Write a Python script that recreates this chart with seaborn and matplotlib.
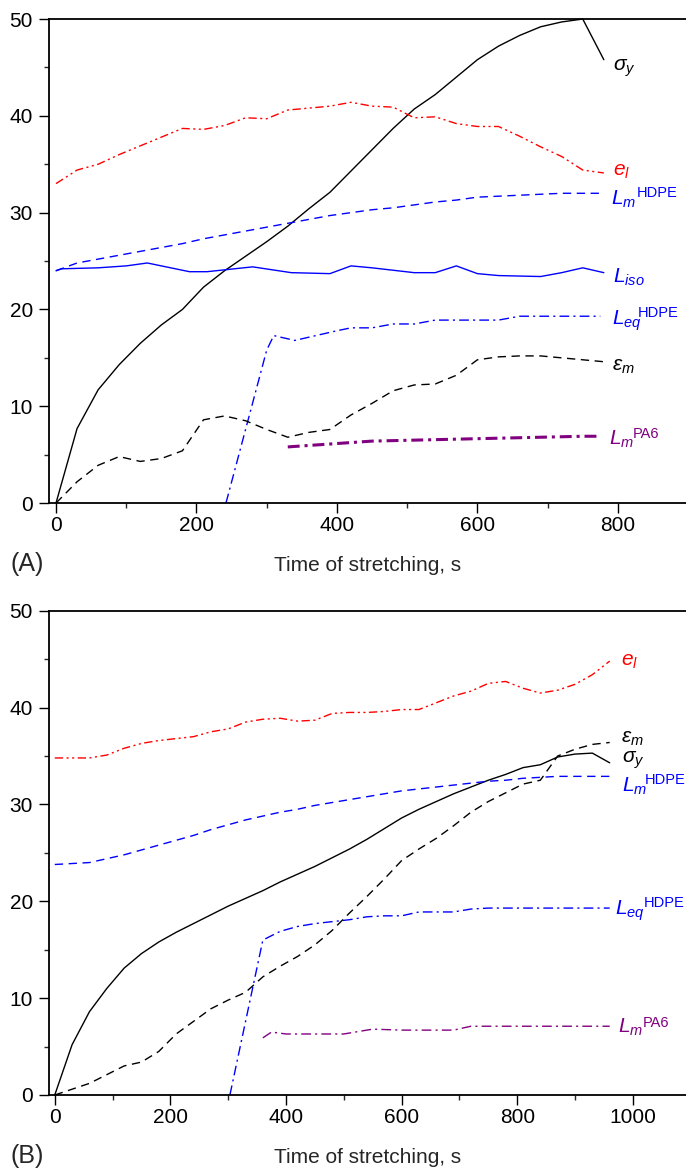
import matplotlib
matplotlib.use("Agg")
import matplotlib.pyplot as plt
from matplotlib.ticker import MultipleLocator
import seaborn as sns

# ---------------- Panel A: data (time of stretching, s) ----------------
t30_a = [0, 30, 60, 90, 120, 150, 180, 210, 240, 270, 300, 330, 360, 390,
         420, 450, 480, 510, 540, 570, 600, 630, 660, 690, 720, 750, 780]
sigma_y_a = [0, 7.7, 11.7, 14.3, 16.5, 18.4, 20.0, 22.3, 24.0, 25.5, 27.0, 28.6,
             30.4, 32.1, 34.3, 36.5, 38.7, 40.7, 42.2, 44.0, 45.8, 47.2, 48.3,
             49.2, 49.7, 50.0, 45.8]
e_l_a = [33.0, 34.4, 35.0, 36.0, 36.9, 37.8, 38.7, 38.6, 39.0, 39.8, 39.7, 40.6,
         40.8, 41.0, 41.4, 41.0, 40.9, 39.8, 39.9, 39.2, 38.9, 38.9, 37.9, 36.8,
         35.8, 34.4, 34.1]
lm_hdpe_a = [24.0, 24.8, 25.2, 25.6, 26.0, 26.4, 26.8, 27.3, 27.7, 28.1, 28.5,
             28.9, 29.3, 29.7, 30.0, 30.3, 30.5, 30.8, 31.1, 31.3, 31.6, 31.7,
             31.8, 31.9, 32.0, 32.0, 32.0]
eps_m_a = [0, 2.2, 3.9, 4.8, 4.3, 4.6, 5.4, 8.6, 9.0, 8.5, 7.6, 6.8, 7.3, 7.6,
           9.1, 10.3, 11.6, 12.2, 12.3, 13.2, 14.8, 15.1, 15.2, 15.2, 15.0,
           14.8, 14.6]
t_iso_a = [0, 8, 60, 100, 130, 190, 215, 280, 335, 390, 420, 450, 510, 540,
           570, 600, 630, 690, 720, 750, 780]
l_iso_a = [24.0, 24.2, 24.3, 24.5, 24.8, 23.9, 23.9, 24.4, 23.8, 23.7, 24.5,
           24.3, 23.8, 23.8, 24.5, 23.7, 23.5, 23.4, 23.8, 24.3, 23.8]
t_eq_a = [242, 300, 310, 340, 370, 400, 420, 450, 480, 510, 540, 600, 630, 660,
          690, 720, 750, 775]
leq_hdpe_a = [0, 15.8, 17.3, 16.8, 17.3, 17.8, 18.1, 18.1, 18.5, 18.5, 18.9,
              18.9, 18.9, 19.3, 19.3, 19.3, 19.3, 19.3]
t_pa6_a = [330, 390, 450, 510, 570, 630, 690, 750, 775]
lm_pa6_a = [5.8, 6.1, 6.4, 6.5, 6.6, 6.7, 6.8, 6.9, 6.9]

# ---------------- Panel B: data ----------------
t30_b = [0, 30, 60, 90, 120, 150, 180, 210, 240, 270, 300, 330, 360, 390, 420,
         450, 480, 510, 540, 570, 600, 630, 660, 690, 720, 750, 780, 810, 840,
         870, 900, 930, 960]
sigma_y_b = [0, 5.2, 8.6, 11.0, 13.1, 14.6, 15.8, 16.8, 17.7, 18.6, 19.5, 20.3,
             21.1, 22.0, 22.8, 23.6, 24.5, 25.4, 26.4, 27.5, 28.6, 29.5, 30.3,
             31.1, 31.8, 32.5, 33.1, 33.8, 34.1, 34.9, 35.2, 35.3, 34.3]
e_l_b = [34.8, 34.8, 34.8, 35.1, 35.8, 36.3, 36.6, 36.8, 37.0, 37.5, 37.8, 38.5,
         38.8, 38.9, 38.6, 38.7, 39.4, 39.5, 39.5, 39.6, 39.8, 39.8, 40.5, 41.2,
         41.7, 42.5, 42.7, 42.0, 41.5, 41.8, 42.4, 43.4, 44.8]
lm_hdpe_b = [23.8, 23.9, 24.0, 24.4, 24.8, 25.3, 25.8, 26.3, 26.8, 27.4, 27.9,
             28.4, 28.8, 29.2, 29.5, 29.9, 30.2, 30.5, 30.8, 31.1, 31.4, 31.6,
             31.8, 32.0, 32.2, 32.4, 32.5, 32.7, 32.8, 32.9, 32.9, 32.9, 32.9]
eps_m_b = [0, 0.6, 1.2, 2.1, 3.0, 3.4, 4.5, 6.3, 7.6, 8.9, 9.8, 10.6, 12.2, 13.3,
           14.3, 15.5, 17.0, 18.8, 20.5, 22.3, 24.2, 25.4, 26.5, 27.8, 29.2,
           30.3, 31.2, 32.1, 32.5, 35.0, 35.7, 36.2, 36.4]
t_eq_b = [303, 360, 390, 420, 450, 480, 510, 540, 570, 600, 630, 660, 690, 720,
          750, 780, 810, 840, 870, 900, 930, 960]
leq_hdpe_b = [0, 16.0, 16.9, 17.4, 17.7, 17.9, 18.1, 18.4, 18.5, 18.5, 18.9,
              18.9, 18.9, 19.2, 19.3, 19.3, 19.3, 19.3, 19.3, 19.3, 19.3, 19.3]
t_pa6_b = [360, 375, 400, 450, 500, 550, 600, 650, 690, 720, 780, 840, 900, 960]
lm_pa6_b = [5.9, 6.5, 6.3, 6.3, 6.3, 6.8, 6.7, 6.7, 6.7, 7.1, 7.1, 7.1, 7.1, 7.1]

panel_tags = ["(A)", "(B)"]
x_label = "Time of stretching, s"

# ---------------- styling ----------------
sns.set_style("ticks")
plt.rcParams["font.family"] = ["Liberation Sans", "DejaVu Sans"]
plt.rcParams["mathtext.fontset"] = "custom"
plt.rcParams["mathtext.rm"] = "Liberation Sans"
plt.rcParams["mathtext.it"] = "Liberation Sans:italic"
plt.rcParams["mathtext.bf"] = "Liberation Sans:bold"

BLACK, RED, BLUE, PURPLE = "#000000", "#ff0000", "#0000ff", "#800080"
DASH = (0, (6, 4))
DASHDOT = (0, (7, 3, 1.5, 3))
DASHDOTDOT = (0, (6, 2.5, 1.5, 2.5, 1.5, 2.5))
LW = 1.0

fig = plt.figure(figsize=(6.86, 11.68), dpi=100)
ax_a = fig.add_axes([0.0714, 0.5693, 0.9286, 0.4144])
ax_b = fig.add_axes([0.0714, 0.0625, 0.9286, 0.4146])


def line(ax, x, y, color, ls, lw=LW):
    sns.lineplot(x=x, y=y, ax=ax, color=color, linestyle=ls, linewidth=lw,
                 errorbar=None, estimator=None, sort=False, clip_on=False)


def label(ax, x, y, main, color, sup=None, dx_px=0, dy_px=0):
    """Curve label with its baseline at (x, y); optional upright superscript."""
    ax.text(x, y, main, color=color, fontsize=15, va="baseline", ha="left")
    if sup:
        ax.annotate(sup, xy=(x, y), xytext=(dx_px * 0.72, dy_px * 0.72),
                    textcoords="offset points", color=color, fontsize=10.5,
                    va="baseline", ha="left", annotation_clip=False)


# Panel A curves
line(ax_a, t30_a, sigma_y_a, BLACK, "-")
line(ax_a, t30_a, e_l_a, RED, DASHDOTDOT)
line(ax_a, t30_a, lm_hdpe_a, BLUE, DASH)
line(ax_a, t_iso_a, l_iso_a, BLUE, "-")
line(ax_a, t_eq_a, leq_hdpe_a, BLUE, DASHDOT)
line(ax_a, t30_a, eps_m_a, BLACK, DASH)
line(ax_a, t_pa6_a, lm_pa6_a, PURPLE, (0, (3.9, 1.6, 1.0, 1.6)), lw=2.2)

# Panel B curves
line(ax_b, t30_b, sigma_y_b, BLACK, "-")
line(ax_b, t30_b, e_l_b, RED, DASHDOTDOT)
line(ax_b, t30_b, lm_hdpe_b, BLUE, DASH)
line(ax_b, t_eq_b, leq_hdpe_b, BLUE, DASHDOT)
line(ax_b, t30_b, eps_m_b, BLACK, DASH)
line(ax_b, t_pa6_b, lm_pa6_b, PURPLE, DASHDOT)

# Curve labels, panel A
label(ax_a, 793, 44.7, r"$\sigma_y$", BLACK)
label(ax_a, 793, 33.8, r"$e_l$", RED)
label(ax_a, 790, 30.8, r"$L_m$", BLUE, "HDPE", 26, 8)
label(ax_a, 793, 22.8, r"$L_{iso}$", BLUE)
label(ax_a, 791, 18.4, r"$L_{eq}$", BLUE, "HDPE", 26, 8)
label(ax_a, 791, 13.7, r"$\varepsilon_m$", BLACK)
label(ax_a, 788, 6.0, r"$L_m$", PURPLE, "PA6", 23, 7)

# Curve labels, panel B
label(ax_b, 979, 44.3, r"$e_l$", RED)
label(ax_b, 979, 36.4, r"$\varepsilon_m$", BLACK)
label(ax_b, 981, 34.3, r"$\sigma_y$", BLACK)
label(ax_b, 981, 31.3, r"$L_m$", BLUE, "HDPE", 23, 8)
label(ax_b, 969, 18.6, r"$L_{eq}$", BLUE, "HDPE", 29, 8)
label(ax_b, 974, 6.4, r"$L_m$", PURPLE, "PA6", 25, 6)

for ax, xmax, tag in [(ax_a, 897, panel_tags[0]), (ax_b, 1092, panel_tags[1])]:
    ax.set_xlim(-10, xmax)
    ax.set_ylim(0, 50)
    ax.xaxis.set_major_locator(MultipleLocator(200))
    ax.xaxis.set_minor_locator(MultipleLocator(100))
    ax.yaxis.set_major_locator(MultipleLocator(10))
    ax.yaxis.set_minor_locator(MultipleLocator(5))
    ax.tick_params(which="major", direction="out", length=7.5, width=1.0,
                   labelsize=15, colors="black")
    ax.tick_params(which="minor", direction="out", length=3.8, width=1.0)
    ax.tick_params(axis="y", which="major", pad=4)
    ax.tick_params(axis="x", which="major", pad=2)
    ax.tick_params(top=False, right=False, which="both")
    ax.spines["right"].set_visible(False)
    for s in ["left", "bottom", "top"]:
        ax.spines[s].set_linewidth(1.3)
        ax.spines[s].set_color("black")
    ax.set_xlabel(x_label, fontsize=15, labelpad=15)
    ax.set_ylabel("")
    ax.text(-0.061, -0.126, tag, transform=ax.transAxes, fontsize=18,
            ha="left", va="center")

fig.savefig("out.png", dpi=100)
